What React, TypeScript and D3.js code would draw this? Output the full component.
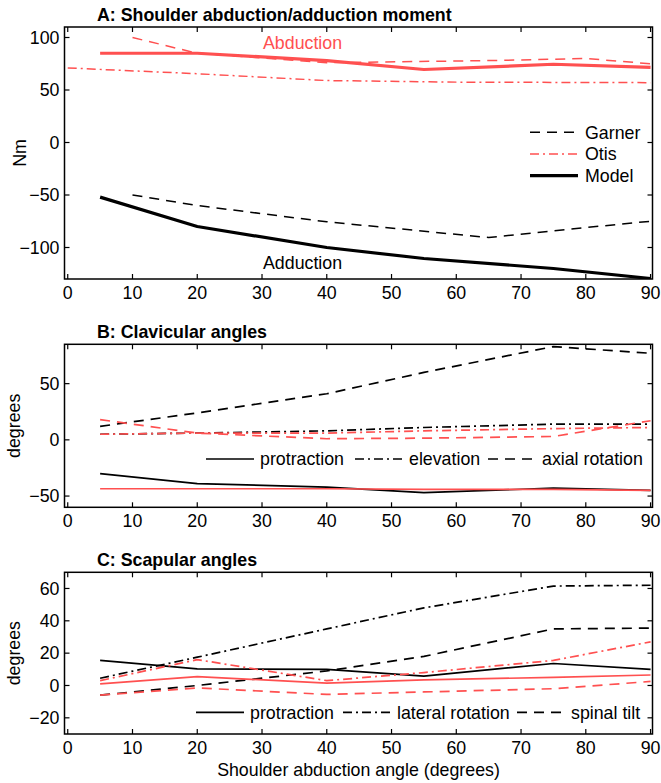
import React from "react";
import * as d3 from "d3";

// abduction angles (deg) at which the model and the measured curves were sampled
const angles = [5, 20, 40, 55, 75, 90];
const garnerAngles = [10, 20, 40, 65, 80, 90];
const otisAngles = [0, 20, 40, 60, 90];
const xTicks = [0, 10, 20, 30, 40, 50, 60, 70, 80, 90];

// A: moments (Nm)
const modelAbduction = [85, 85, 78, 69.5, 74.5, 71.5];
const modelAdduction = [-52, -80, -100, -110.5, -120, -129.5];
const garnerAbduction = [100, 85, 76, 78, 80, 75];
const garnerAdduction = [-50, -60, -75.5, -90.5, -81, -75];
const otisAbduction = [71, 65.5, 59, 57.5, 57];
const momentTicks = [-100, -50, 0, 50, 100];

// B: clavicular angles (deg), black and red curves
const clavProtractionK = [-30, -39, -42, -47, -43, -45];
const clavProtractionR = [-43.5, -43.5, -43.5, -44, -44, -45];
const clavElevationK = [5, 6, 8, 11, 14, 14];
const clavElevationR = [5, 6, 6, 8, 10, 11];
const clavAxialK = [12, 24, 41, 60, 83, 77];
const clavAxialR = [18, 6, 1, 1.5, 3, 17];
const clavTicks = [-50, 0, 50];

// C: scapular angles (deg)
const scapProtractionK = [15.5, 10.3, 10, 5.8, 13.6, 10];
const scapProtractionR = [1, 5.5, 1.5, 3.5, 5, 6.5];
const scapLateralK = [4.5, 17.5, 35, 48, 61.5, 62];
const scapLateralR = [3, 16, 3, 8, 15.5, 27];
const scapSpinalK = [-6, 0, 9, 18, 35, 35.5];
const scapSpinalR = [-6, -1.5, -5.5, -4, -2, 2.5];
const scapTicks = [-20, 0, 20, 40, 60];

const RED = "#ff5050";
const FONT = "'Liberation Sans', Arial, Helvetica, sans-serif";
const FS = 17.8;
const DASH = "10,7";
const DASHDOT = "9,4,2,4";
const LEFT = 64.5;
const RIGHT = 652.5;

const x = d3.scaleLinear().domain([-0.5, 90.3]).range([LEFT, RIGHT]);
const fmt = d3.format("d");

type Series = { xs: number[]; ys: number[]; color: string; dash?: string; width: number };
type LegendItem = { label: string; x: number; dash?: string; width: number };

function Panel(props: {
  id: string;
  top: number;
  bottom: number;
  yDomain: [number, number];
  yTicks: number[];
  title: string;
  ylabel: string;
  ylabelX: number;
  series: Series[];
  children?: React.ReactNode;
}) {
  const { id, top, bottom, yDomain, yTicks, title, ylabel, ylabelX, series } = props;
  const y = d3.scaleLinear().domain(yDomain).range([bottom, top]);
  const line = (s: Series) =>
    d3.line<number>().x((_, i) => x(s.xs[i])).y((d) => y(d))(s.ys) || "";
  const tl = 5;
  return (
    <g>
      <defs>
        <clipPath id={"clip-" + id}>
          <rect x={LEFT} y={top} width={RIGHT - LEFT} height={bottom - top} />
        </clipPath>
      </defs>
      <text x={97} y={top - 6} fontWeight="bold" fontSize={FS}>{title}</text>
      <text
        transform={`translate(${ylabelX},${(top + bottom) / 2}) rotate(-90)`}
        textAnchor="middle"
        dy="0.35em"
        fontSize={FS}
      >
        {ylabel}
      </text>
      <g clipPath={`url(#clip-${id})`}>
        {series.map((s, i) => (
          <path
            key={i}
            d={line(s)}
            fill="none"
            stroke={s.color}
            strokeWidth={s.width}
            strokeDasharray={s.dash}
            strokeLinejoin="round"
          />
        ))}
      </g>
      {xTicks.map((t) => (
        <g key={"x" + t}>
          <line x1={x(t)} x2={x(t)} y1={bottom} y2={bottom - tl} stroke="#000" strokeWidth={1.2} />
          <line x1={x(t)} x2={x(t)} y1={top} y2={top + tl} stroke="#000" strokeWidth={1.2} />
          <text x={x(t)} y={bottom + 20} textAnchor="middle" fontSize={FS}>{fmt(t)}</text>
        </g>
      ))}
      {yTicks.map((t) => (
        <g key={"y" + t}>
          <line x1={LEFT} x2={LEFT + tl} y1={y(t)} y2={y(t)} stroke="#000" strokeWidth={1.2} />
          <line x1={RIGHT} x2={RIGHT - tl} y1={y(t)} y2={y(t)} stroke="#000" strokeWidth={1.2} />
          <text x={LEFT - 5} y={y(t)} dy="0.35em" textAnchor="end" fontSize={FS}>{fmt(t)}</text>
        </g>
      ))}
      <rect x={LEFT} y={top} width={RIGHT - LEFT} height={bottom - top} fill="none" stroke="#000" strokeWidth={1.5} />
      {props.children}
    </g>
  );
}

function HLegend({ items, y }: { items: LegendItem[]; y: number }) {
  return (
    <g>
      {items.map((it) => (
        <g key={it.label}>
          <line x1={it.x} x2={it.x + 48} y1={y} y2={y} stroke="#000" strokeWidth={it.width} strokeDasharray={it.dash} />
          <text x={it.x + 54} y={y} dy="0.35em" fontSize={FS}>{it.label}</text>
        </g>
      ))}
    </g>
  );
}

export default function App() {
  const k = "#000";
  const pairs = (
    xs: number[],
    ys: number[],
    color: string,
    width: number,
    dash?: string
  ): Series => ({ xs, ys, color, width, dash });

  const seriesA: Series[] = [
    pairs(otisAngles, otisAbduction, RED, 1.5, DASHDOT),
    pairs(garnerAngles, garnerAbduction, RED, 1.5, DASH),
    pairs(garnerAngles, garnerAdduction, k, 1.5, DASH),
    pairs(angles, modelAbduction, RED, 3.2),
    pairs(angles, modelAdduction, k, 3.2),
  ];
  const seriesB: Series[] = [
    pairs(angles, clavAxialK, k, 1.7, DASH),
    pairs(angles, clavElevationK, k, 1.7, DASHDOT),
    pairs(angles, clavProtractionK, k, 1.7),
    pairs(angles, clavAxialR, RED, 1.7, DASH),
    pairs(angles, clavElevationR, RED, 1.7, DASHDOT),
    pairs(angles, clavProtractionR, RED, 1.7),
  ];
  const seriesC: Series[] = [
    pairs(angles, scapLateralK, k, 1.7, DASHDOT),
    pairs(angles, scapSpinalK, k, 1.7, DASH),
    pairs(angles, scapProtractionK, k, 1.7),
    pairs(angles, scapLateralR, RED, 1.7, DASHDOT),
    pairs(angles, scapSpinalR, RED, 1.7, DASH),
    pairs(angles, scapProtractionR, RED, 1.7),
  ];

  return (
    <div style={{ position: "absolute", left: 0, top: 0, background: "#fff" }}>
      <svg width={661} height={783} fontFamily={FONT} style={{ display: "block" }}>
        <rect width={661} height={783} fill="#fff" />
        <Panel
          id="a"
          top={27}
          bottom={279}
          yDomain={[-130, 110]}
          yTicks={momentTicks}
          title="A: Shoulder abduction/adduction moment"
          ylabel="Nm"
          ylabelX={19.5}
          series={seriesA}
        >
          <text x={263} y={49} fontSize={FS} fill={RED}>Abduction</text>
          <text x={263} y={269} fontSize={FS} fill="#000">Adduction</text>
          <g>
            <line x1={530} x2={578} y1={132.3} y2={132.3} stroke="#000" strokeWidth={1.5} strokeDasharray={DASH} />
            <text x={585} y={132.3} dy="0.35em" fontSize={FS}>Garner</text>
            <line x1={530} x2={578} y1={154} y2={154} stroke={RED} strokeWidth={1.5} strokeDasharray={DASHDOT} />
            <text x={585} y={154} dy="0.35em" fontSize={FS}>Otis</text>
            <line x1={530} x2={578} y1={175.7} y2={175.7} stroke="#000" strokeWidth={3.2} />
            <text x={585} y={175.7} dy="0.35em" fontSize={FS}>Model</text>
          </g>
        </Panel>
        <Panel
          id="b"
          top={344.3}
          bottom={507.3}
          yDomain={[-60, 85]}
          yTicks={clavTicks}
          title="B: Clavicular angles"
          ylabel="degrees"
          ylabelX={14}
          series={seriesB}
        >
          <HLegend
            y={459}
            items={[
              { label: "protraction", x: 206, width: 1.7 },
              { label: "elevation", x: 355, width: 1.7, dash: DASHDOT },
              { label: "axial rotation", x: 488, width: 1.7, dash: DASH },
            ]}
          />
        </Panel>
        <Panel
          id="c"
          top={572.3}
          bottom={734}
          yDomain={[-30, 70]}
          yTicks={scapTicks}
          title="C: Scapular angles"
          ylabel="degrees"
          ylabelX={14}
          series={seriesC}
        >
          <HLegend
            y={712.3}
            items={[
              { label: "protraction", x: 196, width: 1.7 },
              { label: "lateral rotation", x: 343, width: 1.7, dash: DASHDOT },
              { label: "spinal tilt", x: 517, width: 1.7, dash: DASH },
            ]}
          />
        </Panel>
        <text x={358.5} y={776} textAnchor="middle" fontSize={FS}>
          Shoulder abduction angle (degrees)
        </text>
      </svg>
    </div>
  );
}
